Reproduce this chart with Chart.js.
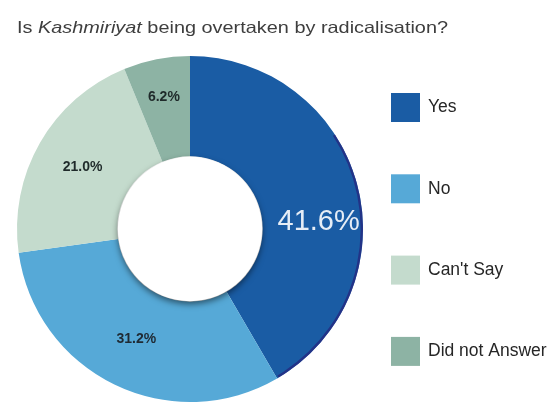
<!DOCTYPE html>
<html>
<head>
<meta charset="utf-8">
<script src="https://cdn.jsdelivr.net/npm/chart.js@4/dist/chart.umd.min.js"></script>
<style>
  html, body { margin: 0; padding: 0; background: #ffffff; }
  #wrap { width: 560px; height: 403px; position: relative; }
</style>
</head>
<body>
<div id="wrap"><canvas id="c" width="560" height="403"></canvas></div>
<script>
// Survey answers (percent of respondents)
const categories = ['Yes', 'No', "Can't Say", 'Did not Answer'];
const shares = [41.6, 31.2, 21.0, 6.2];
const valueLabels = ['41.6%', '31.2%', '21.0%', '6.2%'];
const sliceColors = ['#1a5ca4', '#56a9d7', '#c4dbcd', '#8db3a4'];

const FONT = "'Liberation Sans', Arial, Helvetica, sans-serif";

// Title with the italic word, set in a slightly wide face
const titlePlugin = {
  id: 'mixedTitle',
  afterDraw(chart, args, opts) {
    const ctx = chart.ctx;
    const parts = [
      { t: 'Is ', f: 'normal 16.5px ' + FONT },
      { t: 'Kashmiriyat', f: 'italic 16.5px ' + FONT },
      { t: ' being overtaken by radicalisation?', f: 'normal 16.5px ' + FONT }
    ];
    ctx.save();
    // measure the full line so it can be stretched to the wanted width
    let natural = 0;
    for (const p of parts) { ctx.font = p.f; natural += ctx.measureText(p.t).width; }
    const sx = opts.width / natural;
    ctx.translate(opts.x, opts.baseline);
    ctx.scale(sx, 1);
    ctx.fillStyle = '#3e3e3e';
    ctx.textBaseline = 'alphabetic';
    let x = 0;
    for (const p of parts) {
      ctx.font = p.f;
      ctx.fillText(p.t, x, 0);
      x += ctx.measureText(p.t).width;
    }
    ctx.restore();
  }
};

// Dark rim along the outer edge of the first slice
const rimPlugin = {
  id: 'rim',
  afterDatasetsDraw(chart) {
    const arc = chart.getDatasetMeta(0).data[0];
    if (!arc) return;
    const p = arc.getProps(['x', 'y', 'startAngle', 'endAngle', 'outerRadius'], true);
    const ctx = chart.ctx;
    const span = p.endAngle - p.startAngle;
    ctx.save();
    ctx.beginPath();
    ctx.arc(p.x, p.y, p.outerRadius - 1.2, p.startAngle + span * 0.38, p.endAngle - 0.01);
    ctx.strokeStyle = 'rgba(36,44,130,0.85)';
    ctx.lineWidth = 2.4;
    ctx.stroke();
    ctx.restore();
  }
};

// Raised white centre disc with a soft shadow
const holePlugin = {
  id: 'hole',
  afterDatasetsDraw(chart) {
    const arc = chart.getDatasetMeta(0).data[0];
    if (!arc) return;
    const { x, y, innerRadius } = arc.getProps(['x', 'y', 'innerRadius'], true);
    const ctx = chart.ctx;
    ctx.save();
    ctx.shadowColor = 'rgba(0,0,0,0.5)';
    ctx.shadowBlur = 6;
    ctx.shadowOffsetY = 3;
    ctx.beginPath();
    ctx.arc(x, y, innerRadius - 0.5, 0, Math.PI * 2);
    ctx.fillStyle = '#ffffff';
    ctx.fill();
    ctx.restore();
  }
};

// Percentage labels inside the ring
const sliceLabelPlugin = {
  id: 'sliceLabels',
  afterDatasetsDraw(chart, args, opts) {
    const ctx = chart.ctx;
    const meta = chart.getDatasetMeta(0);
    meta.data.forEach((arc, i) => {
      const p = arc.getProps(['x', 'y', 'startAngle', 'endAngle', 'innerRadius', 'outerRadius'], true);
      const place = opts.placement[i];
      const mid = (p.startAngle + p.endAngle) / 2 + place.shift * Math.PI / 180;
      const r = p.innerRadius + (p.outerRadius - p.innerRadius) * place.ring;
      const lx = p.x + Math.cos(mid) * r;
      const ly = p.y + Math.sin(mid) * r;
      ctx.save();
      ctx.textAlign = 'center';
      ctx.textBaseline = 'middle';
      ctx.font = place.font;
      ctx.fillStyle = place.color;
      ctx.fillText(valueLabels[i], lx, ly);
      ctx.restore();
    });
  }
};

// Legend column on the right
const legendPlugin = {
  id: 'sideLegend',
  afterDraw(chart, args, opts) {
    const ctx = chart.ctx;
    ctx.save();
    ctx.font = 'normal 17.5px ' + FONT;
    ctx.textBaseline = 'middle';
    ctx.textAlign = 'left';
    categories.forEach((name, i) => {
      const top = opts.top + i * opts.step;
      ctx.fillStyle = sliceColors[i];
      ctx.fillRect(opts.left, top, opts.box, opts.box);
      ctx.fillStyle = '#262626';
      ctx.fillText(name, opts.left + opts.box + 8, top + opts.box / 2);
    });
    ctx.restore();
  }
};

new Chart(document.getElementById('c'), {
  type: 'doughnut',
  data: {
    labels: categories,
    datasets: [{
      data: shares,
      backgroundColor: sliceColors,
      borderWidth: 0,
      hoverOffset: 0
    }]
  },
  options: {
    responsive: false,
    animation: false,
    cutout: '42%',
    rotation: 0,
    layout: { padding: { left: 17, right: 197, top: 56, bottom: 1 } },
    plugins: {
      legend: { display: false },
      title: { display: false },
      tooltip: { enabled: false },
      sliceLabels: {
        placement: [
          { shift: 12, ring: 0.56, font: 'normal 29px ' + FONT, color: '#e6edf6' },
          { shift: 0, ring: 0.50, font: 'bold 14px ' + FONT, color: '#1f2a33' },
          { shift: 0, ring: 0.51, font: 'bold 14px ' + FONT, color: '#1f2a2a' },
          { shift: 0, ring: 0.62, font: 'bold 14px ' + FONT, color: '#1f2a2a' }
        ]
      },
      mixedTitle: { x: 17, baseline: 32.5, width: 431 },
      sideLegend: { left: 391, top: 93, step: 81.3, box: 29 }
    }
  },
  plugins: [rimPlugin, holePlugin, sliceLabelPlugin, titlePlugin, legendPlugin]
});
</script>
</body>
</html>
